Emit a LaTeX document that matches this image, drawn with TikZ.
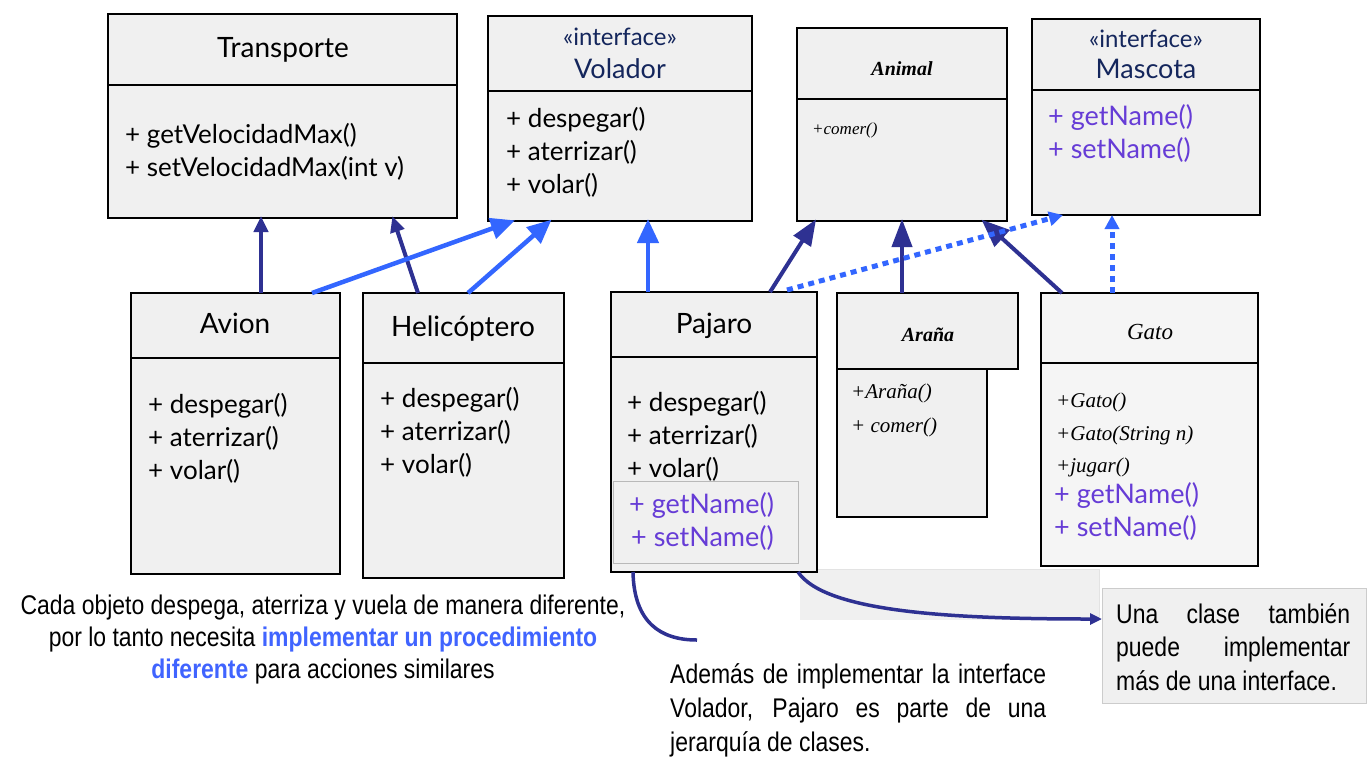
\documentclass[tikz,border=0pt]{standalone}
\usepackage{fontspec}
\setmainfont{Lato}
\newfontfamily\scrfont{Liberation Serif}
\newfontfamily\arn[FakeStretch=0.85]{Liberation Sans}
\usetikzlibrary{arrows.meta,fit}
\definecolor{dkb}{RGB}{46,49,146}
\definecolor{brb}{RGB}{51,102,255}
\definecolor{pur}{RGB}{102,60,214}
\definecolor{navy}{RGB}{20,38,92}
\definecolor{boxf}{RGB}{240,240,240}
\definecolor{boxg}{RGB}{245,245,245}
\definecolor{blt}{RGB}{64,100,255}
\begin{document}
\begin{tikzpicture}[x=1pt,y=-1pt,
  box/.style={draw=black,line width=2.2pt,fill=boxf,inner sep=0pt,outer sep=0pt},
  divl/.style={line width=2pt},
  ttl/.style={anchor=base,inner sep=0pt,font=\fontsize{28}{28}\selectfont},
  mth/.style={anchor=base west,inner sep=0pt,font=\fontsize{26}{26}\selectfont},
  itf/.style={anchor=base,inner sep=0pt,text=navy,font=\fontsize{24}{24}\selectfont},
  ifn/.style={anchor=base,inner sep=0pt,text=navy,font=\fontsize{27}{27}\selectfont},
  pm/.style={anchor=base west,inner sep=0pt,text=pur,font=\fontsize{27}{27}\selectfont},
  sttl/.style={anchor=base,inner sep=0pt,font=\fontsize{20}{20}\scrfont\bfseries\itshape},
  smth/.style={anchor=base west,inner sep=0pt,font=\fontsize{21}{21}\scrfont\itshape},
  note/.style={anchor=base,inner sep=0pt,font=\fontsize{27}{27}\arn},
  notel/.style={anchor=base west,inner sep=0pt,font=\fontsize{27}{27}\arn},
  inh/.style={draw=dkb,line width=4pt,shorten >=-2pt,-{Triangle[length=20pt,width=17pt]}},
  imp/.style={draw=brb,line width=4.5pt,shorten >=-2pt,-{Triangle[length=24pt,width=21pt]}},
  dimp/.style={draw=brb,line width=5pt,dash pattern=on 6pt off 5pt,-{Triangle[length=14pt,width=14pt]}},
  curv/.style={draw=dkb,line width=3.5pt}
]
\useasboundingbox (0,0) rectangle (1372,761);
\fill[white] (0,0) rectangle (1372,761);
% background panel
\fill[boxf] (800,569) rectangle (1099,620);
\draw[gray!22,line width=0.8pt] (800,569) -- (1099,569) -- (1099,620);

% top row
\node[box,fit={(108,14) (457,218)}] (transporte) {};
\draw[divl] (108,85) -- (457,85);
\node[ttl] (tT) at (283,57) {Transporte};
\node[mth] (tm1) at (125,143) {+ getVelocidadMax()};
\node[mth] (tm2) at (125,176) {+ setVelocidadMax(int v)};

\node[box,fit={(488,16) (752,221)}] (volador) {};
\draw[divl] (488,91) -- (752,91);
\node[itf] (vI) at (620,45) {«interface»};
\node[ifn] (vT) at (620,78) {Volador};
\node[mth] (vm1) at (506,127) {+ despegar()};
\node[mth] (vm2) at (506,160) {+ aterrizar()};
\node[mth] (vm3) at (506,193) {+ volar()};

\node[box,fit={(797,28) (1007,221)}] (animal) {};
\draw[divl] (797,99) -- (1007,99);
\node[sttl] (aT) at (902,75) {Animal};
\node[smth,font=\fontsize{17}{17}\scrfont\itshape] (am1) at (812,134) {+comer()};

\node[box,fit={(1032,19) (1260,215)}] (mascota) {};
\draw[divl] (1032,90) -- (1260,90);
\node[itf] (mI) at (1146,47) {«interface»};
\node[ifn] (mT) at (1146,78) {Mascota};
\node[pm] (mm1) at (1048,125) {+ getName()};
\node[pm] (mm2) at (1048,158) {+ setName()};

% bottom row
\node[box,fit={(131,293) (340,574)}] (avion) {};
\draw[divl] (131,358) -- (340,358);
\node[ttl] (avT) at (235,333) {Avion};
\node[mth] (avm1) at (148,413) {+ despegar()};
\node[mth] (avm2) at (148,446) {+ aterrizar()};
\node[mth] (avm3) at (148,479) {+ volar()};

\node[box,fit={(363,293) (564,578)}] (heli) {};
\draw[divl] (363,363) -- (564,363);
\node[ttl] (hT) at (463,336) {Helicóptero};
\node[mth] (hm1) at (380,407) {+ despegar()};
\node[mth] (hm2) at (380,440) {+ aterrizar()};
\node[mth] (hm3) at (380,473) {+ volar()};

\node[box,fit={(611,292) (817,572)}] (pajaro) {};
\draw[divl] (611,357) -- (817,357);
\node[ttl] (pT) at (714,333) {Pajaro};
\node[mth] (pm1) at (627,411) {+ despegar()};
\node[mth] (pm2) at (627,444) {+ aterrizar()};
\node[mth] (pm3) at (627,477) {+ volar()};
\node[draw=gray!55,line width=0.8pt,fill=boxf,inner sep=0pt,fit={(613,481) (798,563)}] (pajint) {};
\node[pm] (pm4) at (629,513) {+ getName()};
\node[pm] (pm5) at (631,546) {+ setName()};

\node[box,fit={(837,369) (987,517)}] (arbody) {};
\node[box,fit={(837,293) (1018,369)}] (arana) {};
\node[sttl] (arT) at (928,341) {Araña};
\node[smth] (arm1) at (851,398) {+Araña()};
\node[smth] (arm2) at (851,432) {+ comer()};

\node[box,fill=boxg,fit={(1041,293) (1258,566)}] (gato) {};
\draw[divl] (1041,363) -- (1258,363);
\node[sttl,font=\fontsize{23}{23}\scrfont\itshape] (gT) at (1150,339) {Gato};
\node[smth] (gm1) at (1056,407) {+Gato()};
\node[smth] (gm2) at (1056,440) {+Gato(String n)};
\node[smth] (gm3) at (1056,472) {+jugar()};
\node[pm] (gm4) at (1054,503) {+ getName()};
\node[pm] (gm5) at (1054,536) {+ setName()};

% note box
\node[draw=gray!40,line width=0.8pt,fill=boxf,inner sep=0pt,outer sep=0pt,fit={(1102,588) (1366,703)}] (unabox) {};
\node[notel] (u1) at (1116,623) {\makebox[234pt][s]{Una clase también}};
\node[notel] (u2) at (1116,656) {\makebox[234pt][s]{puede implementar}};
\node[notel] (u3) at (1116,690) {más de una interface.};

% texts
\node[note] (c1) at (323,614) {Cada objeto despega, aterriza y vuela de manera diferente,};
\node[note] (c2) at (323,646) {por lo tanto necesita {\bfseries\color{blt}implementar un procedimiento}};
\node[note] (c3) at (323,678) {{\bfseries\color{blt}diferente} para acciones similares};
\node[notel] (d1) at (670,683) {\makebox[376pt][s]{Además de implementar la interface}};
\node[notel] (d2) at (670,717) {\makebox[376pt][s]{Volador, Pajaro es parte de una}};
\node[notel] (d3) at (670,751) {jerarquía de clases.};

% connectors
\draw[inh,-{Triangle[length=16pt,width=14pt]}] ([xshift=130pt]avion.north west) -- ([xshift=153pt]transporte.south west);
\draw[inh,-{Triangle[length=16pt,width=14pt]}] ([xshift=55pt]heli.north west) -- ([xshift=285pt]transporte.south west);
\draw[imp] ([xshift=181pt]avion.north west) -- ([xshift=25pt]volador.south west);
\draw[imp] ([xshift=105pt]heli.north west) -- ([xshift=62pt]volador.south west);
\draw[imp] ([xshift=37pt]pajaro.north west) -- ([xshift=160pt]volador.south west);
\draw[inh,-{Triangle[length=26pt,width=20pt]}] ([xshift=159pt]pajaro.north west) -- ([xshift=18pt]animal.south west);
\draw[inh,-{Triangle[length=28pt,width=20pt]}] ([xshift=65pt]arana.north west) -- ([xshift=105pt]animal.south west);
\draw[inh,-{Triangle[length=28pt,width=22pt]}] ([xshift=21pt]gato.north west) -- ([xshift=186pt]animal.south west);
\draw[dimp] ([xshift=176pt,yshift=2pt]pajaro.north west) -- ([xshift=31pt]mascota.south west);
\draw[dimp] ([xshift=71pt]gato.north west) -- ([xshift=80pt]mascota.south west);

\coordinate (c1end) at (697,640);
\draw[curv] ([xshift=22pt]pajaro.south west) .. controls (634,622) and (660,640) .. (c1end);
\draw[curv,-{Triangle[length=12pt,width=11pt]}] ([xshift=187pt]pajaro.south west) .. controls (825,612) and (950,619) .. ([yshift=-31pt]unabox.north west);
\end{tikzpicture}
\end{document}
